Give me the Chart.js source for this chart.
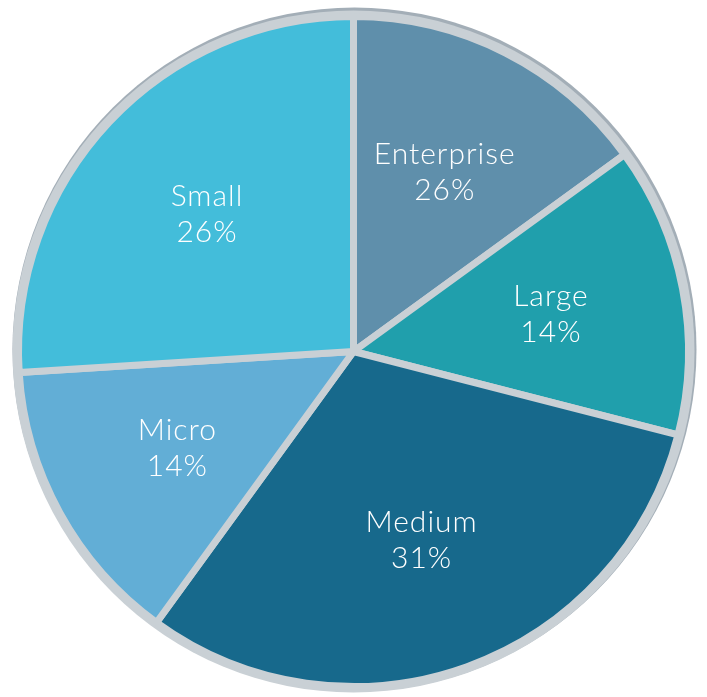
<!DOCTYPE html>
<html>
<head>
  <title>Company size split</title>
  <style>
    html, body {
      margin: 0;
      padding: 0;
      background: #fff;
    }
    .chart-container {
      width: 707px;
      height: 697px;
    }
  </style>
</head>
<body>
  <div class="chart-container">
    <canvas id="pieChart"></canvas>
  </div>

  <script src="https://cdn.jsdelivr.net/npm/chart.js"></script>
  <script>
    // segments, clockwise from 12 o'clock
    const segments = ['Enterprise', 'Large', 'Medium', 'Micro', 'Small'];
    const shares = [15, 14, 31, 14, 26];
    const shareLabels = ['26%', '14%', '31%', '14%', '26%'];
    const sliceColors = ['#5f8fab', '#209fac', '#17698c', '#62aed6', '#43bdda'];

    // grey rim behind the pie, a bit darker along the top edge
    const rimPlugin = {
      id: 'rim',
      beforeDatasetsDraw(chart) {
        const arc = chart.getDatasetMeta(0).data[0];
        if (!arc) return;
        const { x, y, outerRadius } = arc.getProps(['x', 'y', 'outerRadius'], true);
        const ctx = chart.ctx;
        ctx.save();
        ctx.fillStyle = '#a3aeb7';
        ctx.beginPath();
        ctx.arc(x + 1, y - 2, outerRadius + 7, 0, Math.PI * 2);
        ctx.fill();
        ctx.fillStyle = '#c9d0d5';
        ctx.beginPath();
        ctx.arc(x, y, outerRadius + 6, 0, Math.PI * 2);
        ctx.fill();
        ctx.restore();
      }
    };

    // name and percentage written inside each slice
    const sliceLabelPlugin = {
      id: 'sliceLabels',
      afterDatasetsDraw(chart) {
        const ctx = chart.ctx;
        const meta = chart.getDatasetMeta(0);
        ctx.save();
        ctx.fillStyle = '#ffffff';
        ctx.font = '300 30px Lato';
        ctx.letterSpacing = '1px';
        ctx.textAlign = 'center';
        ctx.textBaseline = 'middle';
        meta.data.forEach((arc, i) => {
          const { x, y, startAngle, endAngle, outerRadius } =
            arc.getProps(['x', 'y', 'startAngle', 'endAngle', 'outerRadius'], true);
          const mid = (startAngle + endAngle) / 2;
          const r = outerRadius * 0.6;
          const lx = x + Math.cos(mid) * r;
          const ly = y + Math.sin(mid) * r;
          ctx.fillText(segments[i], lx, ly - 18);
          ctx.fillText(shareLabels[i], lx, ly + 18);
        });
        ctx.restore();
      }
    };

    const pieChart = new Chart(document.getElementById('pieChart'), {
      type: 'pie',
      data: {
        labels: segments,
        datasets: [{
          data: shares,
          backgroundColor: sliceColors,
          borderColor: '#c9d0d5',
          borderWidth: 7
        }]
      },
      options: {
        responsive: true,
        maintainAspectRatio: false,
        animation: false,
        radius: 335,
        layout: {
          padding: { top: 6 }
        },
        plugins: {
          legend: { display: false },
          tooltip: { enabled: false }
        }
      },
      plugins: [rimPlugin, sliceLabelPlugin]
    });
  </script>
</body>
</html>
